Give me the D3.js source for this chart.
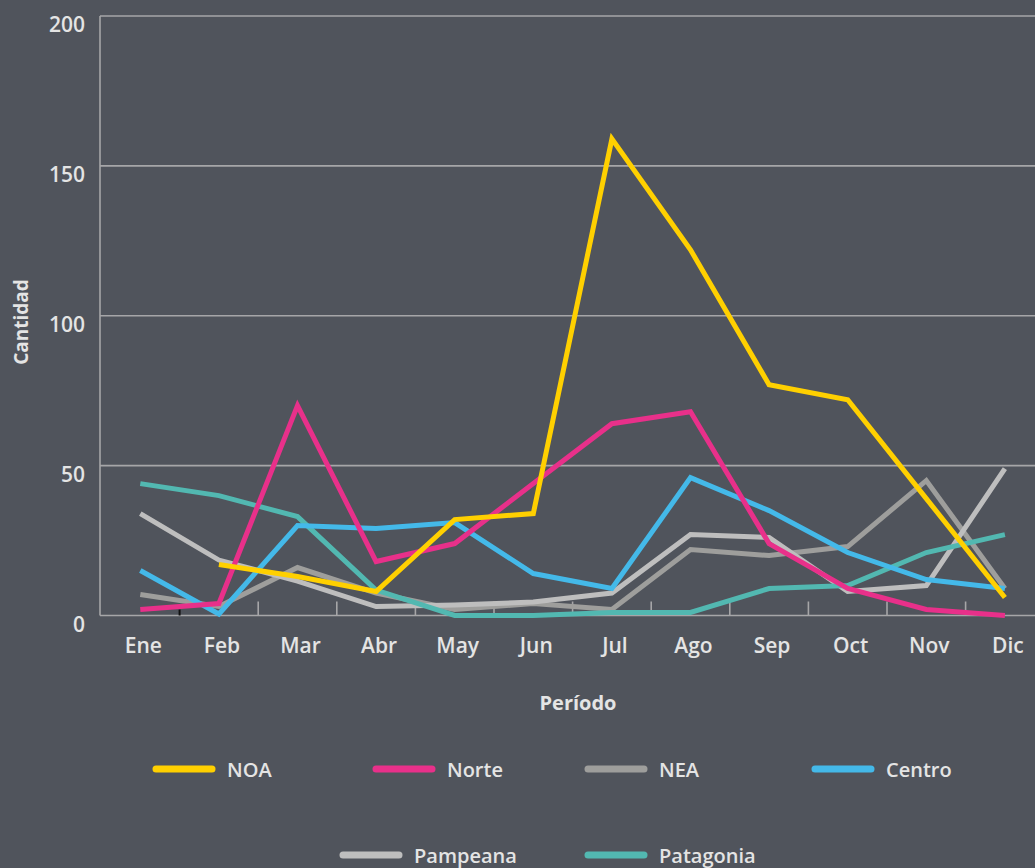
<!DOCTYPE html>
<html>
<head>
<meta charset="utf-8">
<script src="https://cdn.jsdelivr.net/npm/d3@7"></script>
<style>
  html, body { margin: 0; padding: 0; background: #50545c; }
  svg { display: block; }
  text { font-family: "Open Sans", "Noto Sans", sans-serif; font-weight: 600; fill: #e4e4e4; }
</style>
</head>
<body>
<svg id="chart" width="1035" height="868"></svg>
<script>
const months = ["Ene","Feb","Mar","Abr","May","Jun","Jul","Ago","Sep","Oct","Nov","Dic"];
const yTicks = [0, 50, 100, 150, 200];

const seriesNames = ["NOA","Norte","NEA","Centro","Pampeana","Patagonia"];
const NOA       = [null, 17, 13, 8, 32, 34, 159, 122, 77, 72, 39, 6];
const Norte     = [2, 4, 70, 18, 24, 44, 64, 68, 24, 9, 2, 0];
const NEA       = [7, 3, 16, 7.5, 2, 4, 2, 22, 20, 23, 45, 9];
const Centro    = [15, 0.5, 30, 29, 31, 14, 9, 46, 35, 21, 12, 9];
const Pampeana  = [34, 18.5, 11.5, 3, 3.5, 4.5, 7.5, 27, 26, 8, 10, 49];
const Patagonia = [44, 40, 33, 8.5, 0, 0, 1, 1, 9, 10, 21, 27];

const colors = {
  NOA: "#ffd000", Norte: "#e8308a", NEA: "#9e9e9c",
  Centro: "#44b9e9", Pampeana: "#bebebe", Patagonia: "#52b8b1"
};
const values = { NOA, Norte, NEA, Centro, Pampeana, Patagonia };
const drawOrder = ["NEA","Pampeana","Patagonia","Centro","Norte","NOA"];

const svg = d3.select("#chart");
const W = 1035;
svg.append("rect").attr("width", W).attr("height", 868).attr("fill", "#50545c");

const left = 101, step = 78.6;
const x = d3.scaleBand().domain(months).range([left, left + step * months.length]).padding(0);
const y = d3.scaleLinear().domain([0, 200]).range([615.5, 16]);
const cx = m => x(m) + x.bandwidth() / 2;

// grid lines
svg.append("g").selectAll("line").data(yTicks).join("line")
  .attr("x1", 100).attr("x2", W)
  .attr("y1", d => y(d)).attr("y2", d => y(d))
  .attr("stroke", "#a6a6a8").attr("stroke-width", 1.6);
// left axis line
svg.append("line").attr("x1", 100).attr("x2", 100).attr("y1", y(200)).attr("y2", y(0))
  .attr("stroke", "#a6a6a8").attr("stroke-width", 1.6);

// y labels
svg.append("g").selectAll("text").data(yTicks).join("text")
  .attr("x", 85).attr("y", d => y(d) + 16)
  .attr("text-anchor", "end").attr("font-size", 21)
  .text(d => d);

// boundary ticks (inside, upward)
const bounds = months.slice(1);
svg.append("g").selectAll("line").data(bounds).join("line")
  .attr("x1", d => x(d)).attr("x2", d => x(d))
  .attr("y2", y(0))
  .attr("stroke", (d, i) => i === 0 ? "#111" : "#a6a6a8")
  .attr("stroke-width", (d, i) => i === 0 ? 2 : 1.6)
  .attr("y1", (d, i) => i === 0 ? y(0) - 6 : y(0) - 14);

// x labels
svg.append("g").selectAll("text").data(months).join("text")
  .attr("x", d => cx(d) + 3).attr("y", 653)
  .attr("text-anchor", "middle").attr("font-size", 21)
  .text(d => d);

// axis titles
svg.append("text").attr("x", 578).attr("y", 710).attr("text-anchor", "middle")
  .attr("font-size", 20).style("font-weight", 700).text("Período");
svg.append("text").attr("transform", "translate(28,322) rotate(-90)")
  .attr("text-anchor", "middle").attr("font-size", 19).style("font-weight", 700).text("Cantidad");

// lines
const line = d3.line()
  .defined(d => d.v !== null)
  .x(d => cx(d.m)).y(d => y(d.v));
drawOrder.forEach(name => {
  const data = months.map((m, i) => ({ m, v: values[name][i] }));
  svg.append("path").datum(data)
    .attr("d", line)
    .attr("fill", "none")
    .attr("stroke", colors[name])
    .attr("stroke-width", 5)
    .attr("stroke-linejoin", "miter");
});

// legend
const legendPos = {
  NOA: [153, 769], Norte: [373, 769], NEA: [585, 769], Centro: [812, 769],
  Pampeana: [340, 855], Patagonia: [585, 855]
};
const lg = svg.append("g");
seriesNames.forEach(name => {
  const [lx, ly] = legendPos[name];
  lg.append("line").attr("x1", lx + 3).attr("x2", lx + 59).attr("y1", ly).attr("y2", ly)
    .attr("stroke", colors[name]).attr("stroke-width", 7).attr("stroke-linecap", "round");
  lg.append("text").attr("x", lx + 74).attr("y", ly + 7.5)
    .attr("font-size", 20).text(name);
});
</script>
</body>
</html>
